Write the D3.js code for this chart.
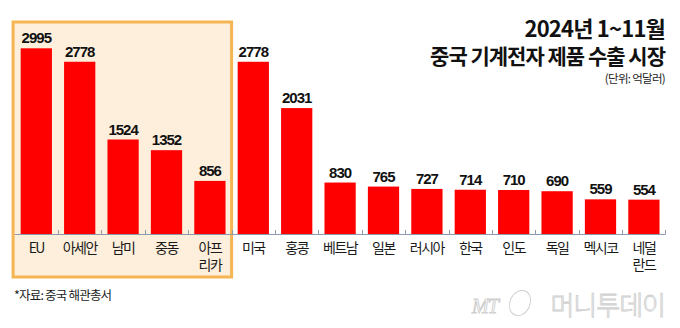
<!DOCTYPE html>
<html>
<head>
<meta charset="utf-8">
<script src="https://cdn.jsdelivr.net/npm/d3@7"></script>
<style>
  html, body { margin: 0; padding: 0; background: #fff; }
  svg { display: block; }
  .kr { font-family: "Noto Sans CJK KR", "Noto Sans", sans-serif; }
  .num { font-family: "Liberation Sans", Arial, sans-serif; font-weight: bold; }
</style>
</head>
<body>
<div id="chart"></div>
<script>
// 2024년 1~11월 중국 기계전자 제품 수출 시장 (단위: 억달러)
const categories = ["EU", "아세안", "남미", "중동", "아프\n리카", "미국", "홍콩", "베트남", "일본", "러시아", "한국", "인도", "독일", "멕시코", "네덜\n란드"];
const values = [2995, 2778, 1524, 1352, 856, 2778, 2031, 830, 765, 727, 714, 710, 690, 559, 554];
const highlighted = ["EU", "아세안", "남미", "중동", "아프\n리카"];
const titleLines = ["2024년 1~11월", "중국 기계전자 제품 수출 시장"];
const unitLabel = "(단위: 억달러)";
const sourceLabel = "*자료: 중국 해관총서";

const W = 680, H = 328;
const baseY = 234;

const svg = d3.select("#chart").append("svg")
  .attr("width", W).attr("height", H);

const x = d3.scaleBand()
  .domain(categories)
  .range([14.6, 665.6])
  .paddingInner(0.28)
  .paddingOuter(0.14);

const y = d3.scaleLinear()
  .domain([0, 3000])
  .range([baseY, 48]);

const step = x.step();
const edge = d => x(d) - step * x.paddingInner() / 2;

// highlighted region panel
const hlLeft = edge(highlighted[0]) - 1.5;
const hlRight = edge(categories[highlighted.length]);
svg.append("rect")
  .attr("x", hlLeft).attr("y", 22)
  .attr("width", hlRight - hlLeft).attr("height", 277 - 22)
  .attr("fill", "#fdefdc")
  .attr("stroke", "#f5b553")
  .attr("stroke-width", 3);

// bars
const data = categories.map((c, i) => ({ c, v: values[i] }));
svg.append("g").selectAll("rect")
  .data(data).join("rect")
  .attr("x", d => x(d.c))
  .attr("y", d => y(d.v))
  .attr("width", x.bandwidth())
  .attr("height", d => baseY - y(d.v))
  .attr("fill", "#ff0000");

// value labels
svg.append("g").selectAll("text")
  .data(data).join("text")
  .attr("class", "num")
  .attr("x", d => x(d.c) + x.bandwidth() / 2)
  .attr("y", d => y(d.v) - 5)
  .attr("text-anchor", "middle")
  .attr("font-size", 15)
  .attr("letter-spacing", -1)
  .attr("fill", "#111")
  .text(d => d.v);

// baseline axis with ticks at band boundaries
const axis = svg.append("g").attr("stroke", "#8d9aab").attr("stroke-width", 1);
axis.append("line")
  .attr("x1", x.range()[0]).attr("x2", x.range()[1])
  .attr("y1", baseY + 0.5).attr("y2", baseY + 0.5);
const tickXs = categories.slice(1).map(edge).concat([x.range()[1] - 0.5]);
axis.selectAll("line.tick").data(tickXs).join("line")
  .attr("class", "tick")
  .attr("x1", d => Math.round(d) + 0.5).attr("x2", d => Math.round(d) + 0.5)
  .attr("y1", baseY - 4).attr("y2", baseY);

// category labels, one text per line
const catLines = categories.flatMap(c =>
  c.split("\n").map((t, i) => ({ c, t, i })));
svg.append("g").selectAll("text")
  .data(catLines).join("text")
  .attr("class", "kr")
  .attr("x", d => x(d.c) + x.bandwidth() / 2)
  .attr("y", d => 253 + d.i * 17)
  .attr("text-anchor", "middle")
  .attr("font-size", 14)
  .attr("letter-spacing", -1.5)
  .attr("fill", "#1a1a1a")
  .text(d => d.t);

// title block
const title = svg.append("g").attr("class", "kr").attr("text-anchor", "end").attr("fill", "#111");
title.append("text")
  .attr("x", 665).attr("y", 37)
  .attr("font-size", 22).attr("font-weight", "bold")
  .attr("letter-spacing", -0.8)
  .text(titleLines[0]);
title.append("text")
  .attr("x", 665).attr("y", 64)
  .attr("font-size", 21).attr("font-weight", "bold")
  .attr("letter-spacing", -1)
  .text(titleLines[1]);
title.append("text")
  .attr("x", 665).attr("y", 83)
  .attr("font-size", 11.5)
  .attr("letter-spacing", -0.7)
  .attr("fill", "#222")
  .text(unitLabel);

// source note
svg.append("text")
  .attr("class", "kr")
  .attr("x", 14).attr("y", 300)
  .attr("font-size", 12.5)
  .attr("letter-spacing", -0.8)
  .attr("fill", "#222")
  .text(sourceLabel);

// publisher mark
const mark = svg.append("g")
  .attr("fill", "#fff")
  .attr("stroke", "#cfcfcf")
  .attr("stroke-width", 0.9);
mark.append("text")
  .attr("x", 472).attr("y", 313)
  .attr("font-family", "Liberation Serif, serif")
  .attr("font-style", "italic")
  .attr("font-size", 20)
  .attr("letter-spacing", -1)
  .text("MT");
mark.append("ellipse")
  .attr("cx", 520).attr("cy", 303)
  .attr("rx", 10).attr("ry", 13)
  .attr("transform", "rotate(25 520 303)")
  .attr("fill", "none");
mark.append("text")
  .attr("class", "kr")
  .attr("x", 665).attr("y", 315)
  .attr("text-anchor", "end")
  .attr("font-size", 26)
  .attr("font-weight", 300)
  .attr("letter-spacing", -1)
  .text("머니투데이");
</script>
</body>
</html>
